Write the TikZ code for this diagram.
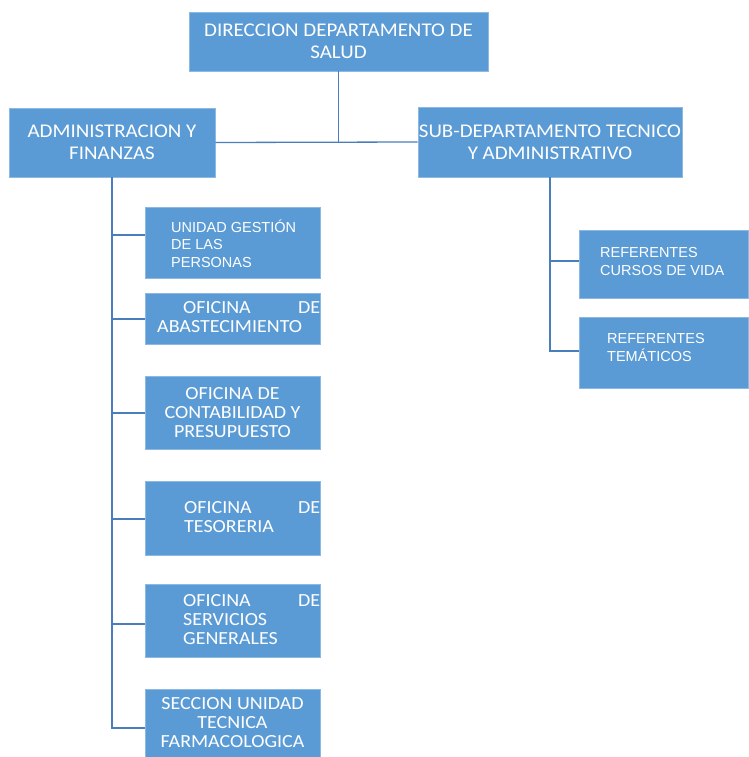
\documentclass[tikz,border=0pt]{standalone}
\usepackage{fontspec}
\newfontfamily\cfont[FakeStretch=1.08]{Carlito}
\newfontfamily\afont{Liberation Sans}
\definecolor{boxblue}{HTML}{5B9BD5}
\definecolor{boxedge}{HTML}{8DB8E2}
\definecolor{linkblue}{HTML}{4A7EBB}
\tikzset{
  orgbox/.style={rectangle, fill=boxblue, draw=boxedge, line width=0.8pt, inner sep=0pt, text=white},
  bigtxt/.style={font=\cfont\fontsize{19.4}{22}\selectfont, align=center},
  smalltxt/.style={font=\cfont\fontsize{18.5}{19}\selectfont},
  arialtxt/.style={font=\afont\fontsize{14.5}{17.5}\selectfont, align=left, text=white, inner sep=0pt},
  ctxt/.style={smalltxt, text=white, inner sep=0pt},
  link/.style={draw=linkblue, line width=1.3pt}
}
\begin{document}
\begin{tikzpicture}[x=1pt,y=-1pt]
\useasboundingbox (0,0) rectangle (748,757);
% top level
\node[orgbox, minimum width=299pt, minimum height=59pt, bigtxt] (dir) at (338.5,41.5) {DIRECCION DEPARTAMENTO DE\\SALUD};
\node[orgbox, minimum width=206pt, minimum height=69pt, bigtxt] (adm) at (112,142.5) {ADMINISTRACION Y\\FINANZAS};
\node[orgbox, minimum width=264pt, minimum height=70pt, bigtxt] (sub) at (550,142) {SUB-DEPARTAMENTO TECNICO\\Y ADMINISTRATIVO};
% left column boxes
\node[orgbox, minimum width=175pt, minimum height=71pt] (u1) at (232.5,242.5) {};
\node[orgbox, minimum width=175pt, minimum height=51pt] (u2) at (232.5,318.5) {};
\node[orgbox, minimum width=175pt, minimum height=73pt, smalltxt, align=center] (u3) at (232.5,412.5) {OFICINA DE\\CONTABILIDAD Y\\PRESUPUESTO};
\node[orgbox, minimum width=175pt, minimum height=74pt] (u4) at (232.5,518) {};
\node[orgbox, minimum width=175pt, minimum height=73pt] (u5) at (232.5,620.5) {};
\node[orgbox, minimum width=175pt, minimum height=68pt, smalltxt, align=center] (u6) at (232.5,723) {SECCION UNIDAD\\TECNICA\\FARMACOLOGICA};
% right column boxes
\node[orgbox, minimum width=169pt, minimum height=68pt] (r1) at (663.5,264) {};
\node[orgbox, minimum width=169pt, minimum height=71pt] (r2) at (663.5,352.5) {};
% texts
\node[arialtxt, anchor=west] (t1) at (171,243.5) {UNIDAD GESTIÓN\\DE LAS\\PERSONAS};
\node[ctxt, anchor=west, text width=163pt, align=left] (t2) at (157,317) {\hspace*{26pt}OFICINA\hfill DE\\ABASTECIMIENTO};
\node[ctxt, anchor=west, text width=136pt, align=left] (t4) at (184,517.5) {OFICINA\hfill DE\\TESORERIA};
\node[ctxt, anchor=west, text width=137pt, align=left] (t5) at (183,619.5) {OFICINA\hfill DE\\SERVICIOS\\GENERALES};
\node[arialtxt, anchor=west] (t7) at (600,261.5) {REFERENTES\\CURSOS DE VIDA};
\node[arialtxt, anchor=west] (t8) at (607,347.5) {REFERENTES\\TEMÁTICOS};
% connectors
\draw[link] (dir.south) -- (dir.south |- adm.east);
\draw[link] (adm.east) -- (sub.west);
\coordinate (b1) at ([yshift=7.5pt]u1.west);
\coordinate (b2) at ([yshift=-0.5pt]u2.west);
\coordinate (b3) at ([yshift=-0.5pt]u3.west);
\coordinate (b4) at ([yshift=-1pt]u4.west);
\coordinate (b5) at ([yshift=-3.5pt]u5.west);
\coordinate (b6) at ([yshift=-5pt]u6.west);
\draw[link] (adm.south) -- (adm.south |- b6) -- (b6);
\foreach \b in {b1,b2,b3,b4,b5} \draw[link] (adm.south |- \b) -- (\b);
\coordinate (c1) at ([yshift=3pt]r1.west);
\coordinate (c2) at ([yshift=1.5pt]r2.west);
\draw[link] (sub.south) -- (sub.south |- c2) -- (c2);
\draw[link] (sub.south |- c1) -- (c1);
\end{tikzpicture}
\end{document}
